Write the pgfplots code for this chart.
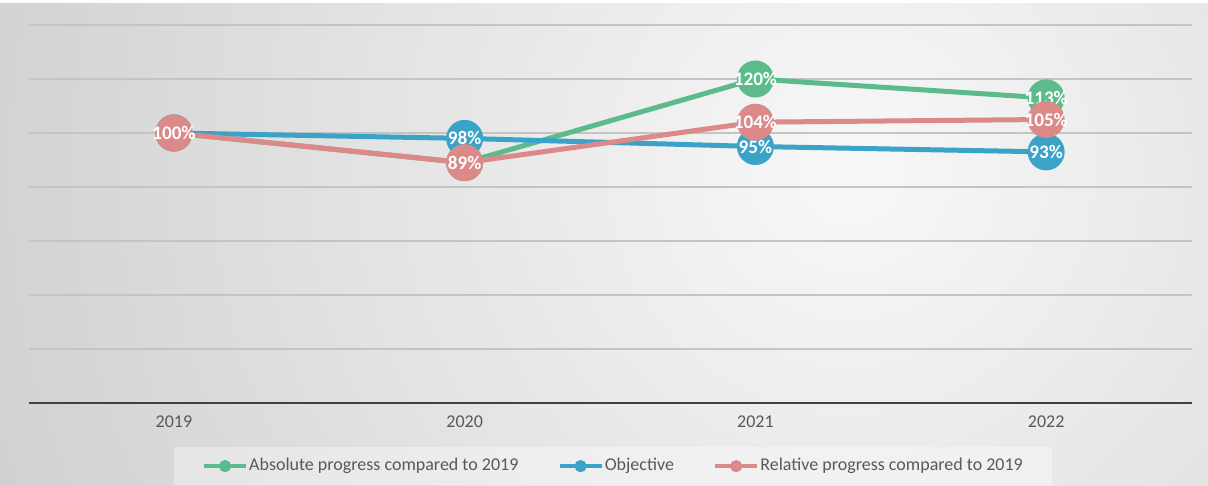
\documentclass[border=0pt]{standalone}
\usepackage{fontspec}
\setmainfont{Carlito}
\usepackage{pgfplots}
\pgfplotsset{compat=1.18}
\definecolor{cgreen}{RGB}{92,187,138}
\definecolor{cblue}{RGB}{58,163,199}
\definecolor{cpink}{RGB}{219,137,137}
\definecolor{labelgray}{RGB}{89,89,89}
\definecolor{gridgray}{RGB}{196,196,196}
\definecolor{axisdark}{RGB}{64,64,64}
\definecolor{bgin}{RGB}{248,248,248}
\definecolor{bgout}{RGB}{165,165,165}
\pgfdeclareradialshading{bgshade}{\pgfpoint{0bp}{0bp}}{color(0bp)=(bgin); color(50bp)=(bgout)}
\begin{document}
\begin{tikzpicture}
\begin{scope}
\clip (0,0) rectangle (604pt,243pt);
\shade[shading=bgshade] (425pt,158pt) circle (480pt);
\fill[white] (0,241.5pt) rectangle (604pt,243pt);
\end{scope}
\begin{axis}[
  at={(14.25pt,41.5pt)}, anchor=south west,
  scale only axis, width=581.5pt, height=189pt,
  xmin=-0.5, xmax=3.5, ymin=0, ymax=140,
  xtick={0,1,2,3}, xticklabels={2019,2020,2021,2022},
  ytick={20,40,...,140}, yticklabels={},
  ymajorgrids, grid style={gridgray, line width=0.75pt},
  major tick length=0pt,
  axis lines*=left,
  y axis line style={draw=none},
  x axis line style={axisdark, line width=1.2pt},
  xticklabel style={font=\fontsize{9}{11}\selectfont, text=labelgray, yshift=-3pt},
  clip=false,
  nodes near coords={\pgfmathprintnumber[assume math mode=true]{\pgfplotspointmeta}\%},
  every node near coord/.append style={anchor=center, yshift=0pt, text=white, font=\bfseries\fontsize{9.6}{9.6}\selectfont},
  legend style={at={(0.5026,-0.1164)}, anchor=north, legend columns=3, draw=none,
    fill=white, fill opacity=0.35, text opacity=1, text=labelgray,
    font=\fontsize{9}{11}\selectfont, inner xsep=14pt, inner ysep=3.5pt,
    nodes={inner xsep=0.6pt},
    /tikz/every even column/.append style={column sep=19pt}},
  legend cell align=left,
  legend image code/.code={\draw[line width=2pt, mark size=2pt, mark repeat=2, mark phase=2] plot coordinates {(0pt,0pt) (10.5pt,0pt) (21pt,0pt)};},
]
\addplot[color=cgreen, line width=2.5pt, mark=*, mark size=8pt, mark options={draw=none, fill=cgreen}]
  coordinates {(0,100) (1,89) (2,120) (3,113)};
\addlegendentry{Absolute progress compared to 2019}
\addplot[color=cblue, line width=2.5pt, mark=*, mark size=8pt, mark options={draw=none, fill=cblue}]
  coordinates {(0,100) (1,98) (2,95) (3,93)};
\addlegendentry{Objective}
\addplot[color=cpink, line width=2.5pt, mark=*, mark size=8pt, mark options={draw=none, fill=cpink}]
  coordinates {(0,100) (1,89) (2,104) (3,105)};
\addlegendentry{Relative progress compared to 2019}
\end{axis}
\pgfresetboundingbox
\useasboundingbox (0,0) rectangle (604pt,243pt);
\end{tikzpicture}
\end{document}
